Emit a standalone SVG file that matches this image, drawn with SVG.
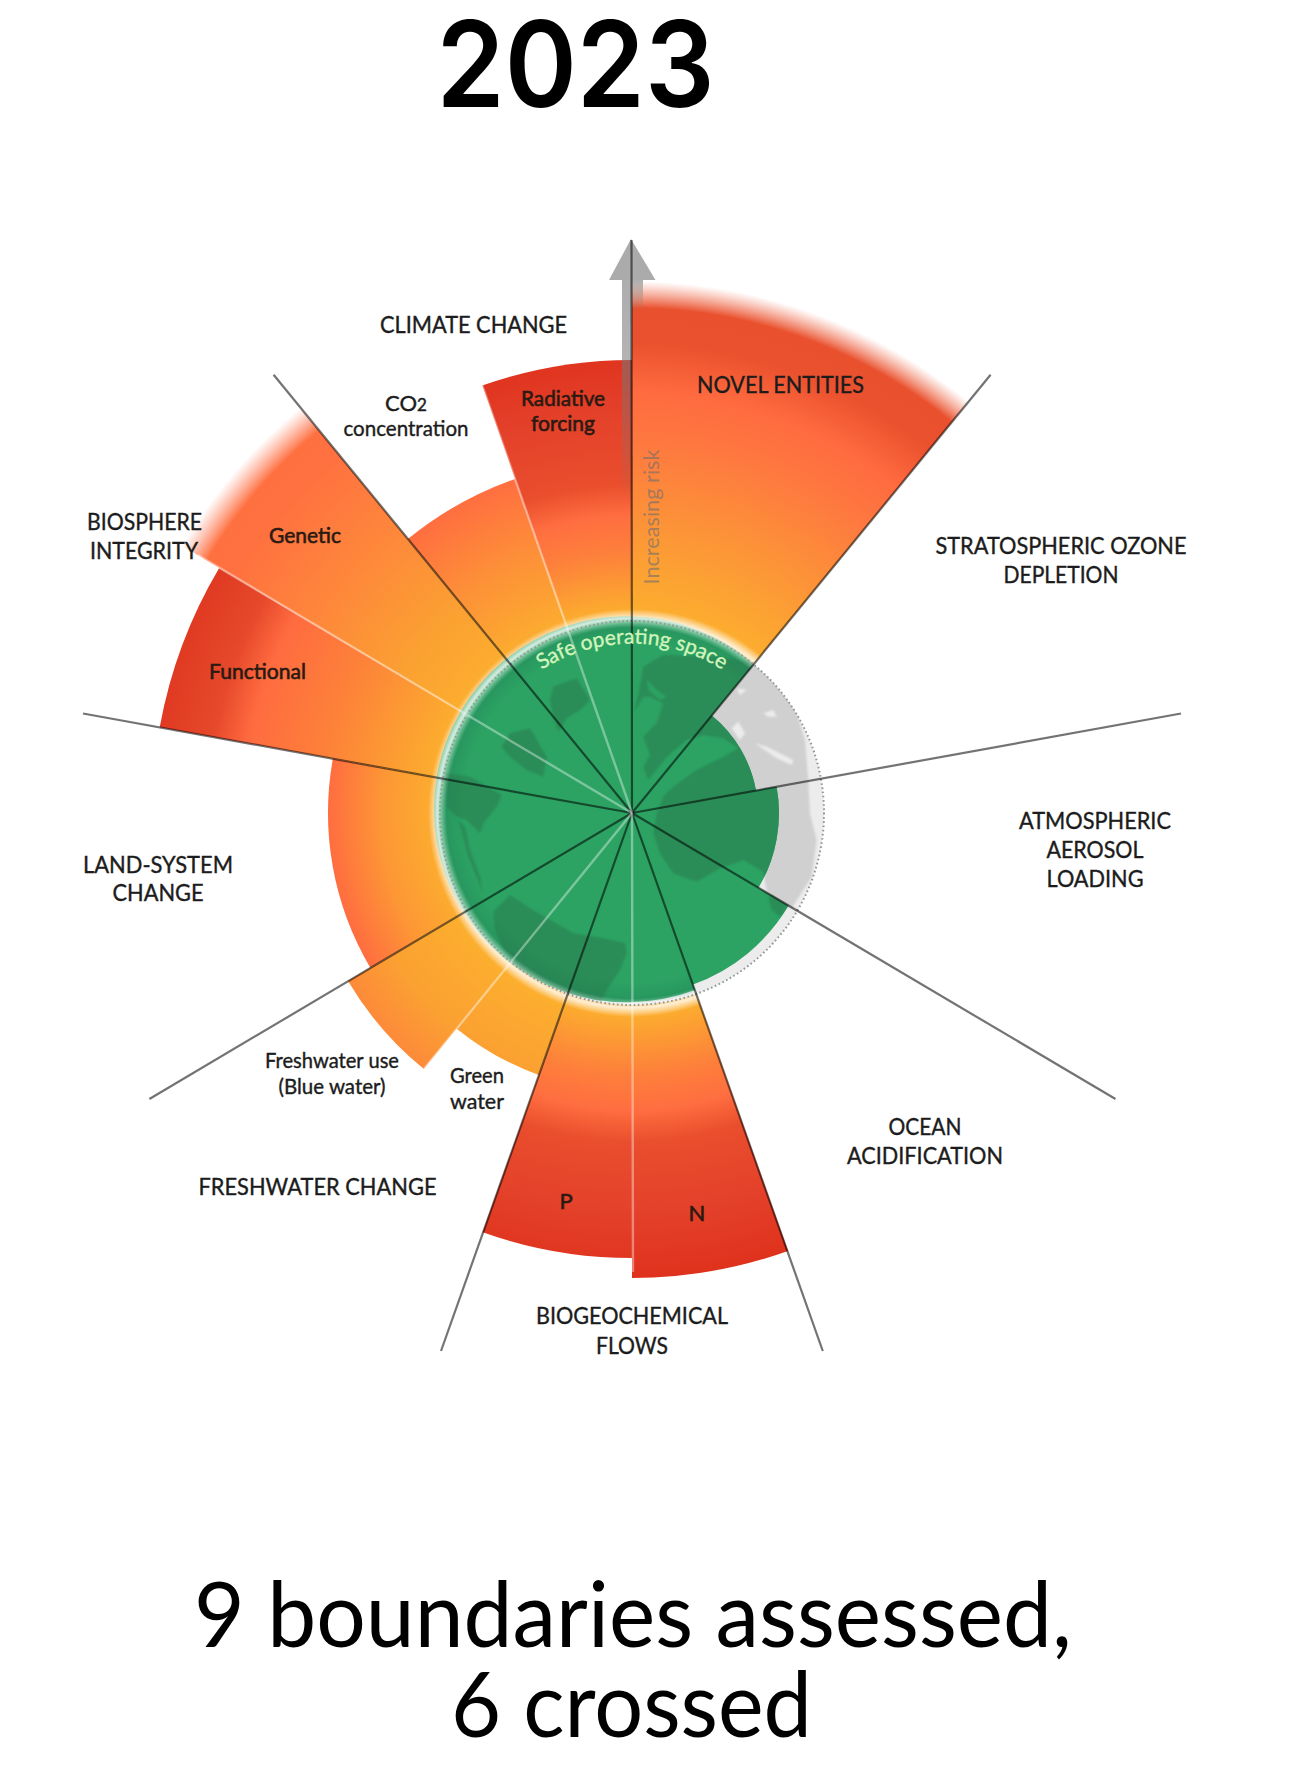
<svg xmlns="http://www.w3.org/2000/svg" xmlns:xlink="http://www.w3.org/1999/xlink" width="1291" height="1769" viewBox="0 0 1291 1769">
<style>
text{font-family:"Lato","Noto Sans",sans-serif;fill:#1c1c1c;text-anchor:middle}
.head{font-size:24px;stroke:#1c1c1c;stroke-width:.4}
.sub{font-size:22px;stroke:#1c1c1c;stroke-width:.4}
.in{font-size:22px;fill:#2a1a12;stroke:#2a1a12;stroke-width:.6}
.spoke{stroke:#000;stroke-opacity:.55;stroke-width:2.2;fill:none}
.div{stroke:#fff;stroke-opacity:.38;stroke-width:2.4;fill:none}
</style>
<defs>
<radialGradient id="gNovel" gradientUnits="userSpaceOnUse" cx="632" cy="813" r="540">
<stop offset=".361" stop-color="#FCAF2E"/><stop offset=".5" stop-color="#FC9936"/><stop offset=".7" stop-color="#FE7640"/><stop offset=".78" stop-color="#FF6B3F"/><stop offset=".87" stop-color="#EA512E"/><stop offset=".935" stop-color="#E9502D"/><stop offset=".985" stop-color="#F07050" stop-opacity="0"/>
</radialGradient>
<radialGradient id="gGenetic" gradientUnits="userSpaceOnUse" cx="632" cy="813" r="540">
<stop offset=".361" stop-color="#FCAE2E"/><stop offset=".5" stop-color="#FBA032"/><stop offset=".69" stop-color="#FE863B"/><stop offset=".86" stop-color="#FF7140"/><stop offset=".915" stop-color="#FF7040"/><stop offset=".97" stop-color="#FF8060" stop-opacity="0"/>
</radialGradient>
<radialGradient id="gFunctional" gradientUnits="userSpaceOnUse" cx="632" cy="813" r="540">
<stop offset=".37" stop-color="#FCAE2E"/><stop offset=".578" stop-color="#FD8139"/><stop offset=".722" stop-color="#FF6B40"/><stop offset=".787" stop-color="#E6492B"/><stop offset=".889" stop-color="#E03A22"/>
</radialGradient>
<radialGradient id="gRed" gradientUnits="userSpaceOnUse" cx="632" cy="813" r="540">
<stop offset=".37" stop-color="#FCAE2E"/><stop offset=".485" stop-color="#FD7F3B"/><stop offset=".55" stop-color="#FF6E40"/><stop offset=".61" stop-color="#E94E2D"/><stop offset=".74" stop-color="#E4412A"/><stop offset=".86" stop-color="#DF321D"/>
</radialGradient>
<radialGradient id="gLand" gradientUnits="userSpaceOnUse" cx="632" cy="813" r="540">
<stop offset=".37" stop-color="#FCAC2F"/><stop offset=".463" stop-color="#FD9735"/><stop offset=".563" stop-color="#FF6D40"/>
</radialGradient>
<radialGradient id="gWater" gradientUnits="userSpaceOnUse" cx="632" cy="813" r="540">
<stop offset=".37" stop-color="#FCAF2E"/><stop offset=".518" stop-color="#FBA032"/><stop offset=".611" stop-color="#FD8A3A"/>
</radialGradient>
<radialGradient id="gCO2" gradientUnits="userSpaceOnUse" cx="632" cy="813" r="540">
<stop offset=".37" stop-color="#FCAC2F"/><stop offset=".518" stop-color="#FD8F38"/><stop offset=".656" stop-color="#FF6E40"/>
</radialGradient>
<radialGradient id="gGlow" gradientUnits="userSpaceOnUse" cx="632" cy="813" r="206">
<stop offset=".82" stop-color="#1E7855" stop-opacity="0"/><stop offset=".9" stop-color="#1E7855" stop-opacity=".28"/><stop offset=".925" stop-color="#fff" stop-opacity=".35"/><stop offset=".945" stop-color="#fff" stop-opacity=".8"/><stop offset=".96" stop-color="#fff" stop-opacity=".55"/><stop offset=".99" stop-color="#fff" stop-opacity="0"/>
</radialGradient>
<linearGradient id="gShaftL" gradientUnits="userSpaceOnUse" x1="0" y1="280" x2="0" y2="500">
<stop offset="0" stop-color="#777" stop-opacity=".6"/><stop offset=".4" stop-color="#777" stop-opacity=".55"/><stop offset="1" stop-color="#777" stop-opacity="0"/>
</linearGradient>
<linearGradient id="gShaftR" gradientUnits="userSpaceOnUse" x1="0" y1="280" x2="0" y2="312">
<stop offset="0" stop-color="#777" stop-opacity=".6"/><stop offset="1" stop-color="#777" stop-opacity="0"/>
</linearGradient>
<filter id="soft" filterUnits="userSpaceOnUse" x="430" y="610" width="410" height="410"><feGaussianBlur stdDeviation=".9"/></filter>
<clipPath id="greenClip">
<path d="M632,813 L695,990 A193,193 0 1 1 754,664 Z"/>
<path d="M632,813 L711.8,715.5 A126,126 0 0 1 756,790.5 Z"/>
<path d="M632,813 L776.6,786.7 A147,147 0 0 1 758.5,887.8 Z"/>
<path d="M632,813 L788.6,905.6 A182,182 0 0 1 693,984.5 Z"/>
</clipPath>
<clipPath id="discClip"><circle cx="632" cy="813" r="192"/></clipPath>
<clipPath id="glowArc"><path d="M632,813 L719.2,1057.9 A260,260 0 1 1 796.7,611.8 Z"/></clipPath>
<g id="landShapes" transform="translate(430,600) scale(.33333)">
<path fill-rule="evenodd" d="M612,335 L628,270 L640,200 L700,165 L860,170 L1000,190 L1060,260 L1100,340 L1125,420 L1135,540 L1140,640 L1160,720 L1145,830 L1085,925 L1010,875 L1000,815 L940,780 L870,805 L800,845 L730,820 L690,760 L670,700 L680,640 L700,590 L730,560 L800,510 L880,470 L925,445 L880,415 L820,405 L770,420 L710,470 L655,540 L640,500 L660,465 L640,410 L680,370 L700,310 L660,290 L640,290 Z M905,385 L925,365 L945,400 L930,420 Z M975,430 L1010,440 L1090,480 L1085,495 L1040,475 Z M1000,340 L1030,330 L1040,350 L1015,350 Z M920,265 L950,270 L930,285 Z M650,240 L680,270 L710,290 L690,300 L655,270 Z"/>
<path d="M1015,890 L1040,880 L1072,920 L1050,950 L1025,930 Z"/>
<path d="M370,260 L440,235 L480,300 L450,330 L410,355 L385,395 L370,350 L360,300 Z"/>
<path d="M240,400 L300,385 L350,470 L340,530 L290,510 L240,470 L215,440 Z"/>
<path d="M45,520 L120,530 L215,585 L200,620 L160,670 L150,700 L110,660 L80,650 L50,620 Z"/>
<path d="M190,935 L240,885 L300,925 L370,965 L430,1000 L520,1015 L585,1030 L590,1060 L570,1110 L530,1170 L510,1215 L430,1195 L350,1150 L270,1110 L220,1050 L195,990 Z"/>
<path d="M85,660 L115,770 L160,880 L150,830 L120,750 L105,680 Z"/>
</g>
<path id="safeArc" d="M492,718 A169,169 0 0 1 772,718"/>
</defs>

<text id="title" x="575.6" y="107" style="font-family:Inter,'Liberation Sans',sans-serif;font-size:119px;font-weight:600;fill:#000" textLength="278" lengthAdjust="spacingAndGlyphs">2023</text>

<g id="novel-entities"><path d="M632,813 L632,273 A540,540 0 0 1 974,395.1 Z" fill="url(#gNovel)"/></g>
<g id="biogeochemical-n"><path d="M632,813 L788,1251 A465,465 0 0 1 632,1278 Z" fill="url(#gRed)"/></g>
<g id="biogeochemical-p"><path d="M632,813 L632,1258 A445,445 0 0 1 482.7,1232.2 Z" fill="url(#gRed)"/></g>
<g id="freshwater-green"><path d="M632,813 L538.7,1074.9 A278,278 0 0 1 456.7,1028.7 Z" fill="url(#gWater)"/></g>
<g id="freshwater-blue"><path d="M632,813 L423.9,1069.1 A330,330 0 0 1 348,981 Z" fill="url(#gWater)"/></g>
<g id="land-system"><path d="M632,813 L370.3,967.7 A304,304 0 0 1 332.9,758.6 Z" fill="url(#gLand)"/></g>
<g id="biosphere-functional"><path d="M632,813 L159.7,727.2 A480,480 0 0 1 219.2,568 Z" fill="url(#gFunctional)"/></g>
<g id="biosphere-genetic"><path d="M632,813 L176.3,542.4 A530,530 0 0 1 296.3,402.9 Z" fill="url(#gGenetic)"/></g>
<g id="climate-co2"><path d="M632,813 L407.8,539.1 A354,354 0 0 1 515,478.9 Z" fill="url(#gCO2)"/></g>
<g id="climate-radiative"><path d="M632,813 L482.3,385.5 A453,453 0 0 1 632,360 Z" fill="url(#gRed)"/></g>

<g id="risk-arrow">
<path d="M631,239 L655.5,280 L609,280 Z" fill="#ABABAB"/>
<rect x="622" y="280" width="10" height="220" fill="url(#gShaftL)"/>
<rect x="632" y="280" width="11" height="32" fill="url(#gShaftR)"/>
</g>

<g id="globe">
<circle cx="632" cy="813" r="192" fill="#ECECEC"/>
<g clip-path="url(#discClip)"><g fill="#D0D0D0" filter="url(#soft)"><use href="#landShapes" xlink:href="#landShapes"/></g></g>
<g clip-path="url(#greenClip)">
<rect x="430" y="610" width="410" height="410" fill="#2CA363"/>
<g fill="#2B8C57" filter="url(#soft)"><use href="#landShapes" xlink:href="#landShapes"/></g>
</g>
<g clip-path="url(#glowArc)"><circle cx="632" cy="813" r="206" fill="url(#gGlow)"/></g>
<circle cx="632" cy="813" r="192" fill="none" stroke="#8E9A96" stroke-width="2" stroke-dasharray="1.6 2.6"/>
</g>

<g id="connectors">
<line class="spoke" x1="632" y1="813" x2="631.5" y2="240"/>
<line class="spoke" x1="632" y1="813" x2="990.6" y2="374.7"/>
<line class="spoke" x1="632" y1="813" x2="1181" y2="713.5"/>
<line class="spoke" x1="632" y1="813" x2="1115.5" y2="1099"/>
<line class="spoke" x1="632" y1="813" x2="822.8" y2="1351"/>
<line class="spoke" x1="632" y1="813" x2="441" y2="1351"/>
<line class="spoke" x1="632" y1="813" x2="149.4" y2="1099"/>
<line class="spoke" x1="632" y1="813" x2="83" y2="713.5"/>
<line class="spoke" x1="632" y1="813" x2="273.6" y2="374.7"/>
<line class="div" x1="632" y1="813" x2="633" y2="1272"/>
<line class="div" x1="632" y1="813" x2="423.9" y2="1069.1"/>
<line class="div" x1="632" y1="813" x2="198" y2="555"/>
<line class="div" x1="632" y1="813" x2="482.3" y2="385.5"/>
</g>

<text id="safe-label" style="font-size:21px;fill:#D2F5BC;stroke:#D2F5BC;stroke-width:.35"><textPath href="#safeArc" xlink:href="#safeArc" startOffset="50%">Safe operating space</textPath></text>
<text id="risk-label" transform="translate(659,517) rotate(-90)" style="font-size:22px;fill:#6e6e6e;fill-opacity:.62" x="0" y="0" textLength="135" lengthAdjust="spacingAndGlyphs">Increasing risk</text>

<g id="labels">
<text class="head" x="473.5" y="333" textLength="187" lengthAdjust="spacingAndGlyphs">CLIMATE CHANGE</text>
<text class="sub" x="406" y="411">CO<tspan font-size="17">2</tspan></text>
<text class="sub" x="406" y="436" textLength="125" lengthAdjust="spacingAndGlyphs">concentration</text>
<text class="in" x="563" y="406" textLength="84" lengthAdjust="spacingAndGlyphs">Radiative</text>
<text class="in" x="563" y="431" textLength="64" lengthAdjust="spacingAndGlyphs">forcing</text>
<text class="head" x="144.5" y="530" textLength="115" lengthAdjust="spacingAndGlyphs">BIOSPHERE</text>
<text class="head" x="144" y="559" textLength="108" lengthAdjust="spacingAndGlyphs">INTEGRITY</text>
<text class="in" x="305" y="543" textLength="72" lengthAdjust="spacingAndGlyphs">Genetic</text>
<text class="in" x="257.5" y="679" textLength="97" lengthAdjust="spacingAndGlyphs">Functional</text>
<text class="head" x="780.5" y="393" textLength="167" lengthAdjust="spacingAndGlyphs">NOVEL ENTITIES</text>
<text class="head" x="1061" y="554" textLength="251" lengthAdjust="spacingAndGlyphs">STRATOSPHERIC OZONE</text>
<text class="head" x="1061" y="583" textLength="115" lengthAdjust="spacingAndGlyphs">DEPLETION</text>
<text class="head" x="1095" y="829" textLength="152" lengthAdjust="spacingAndGlyphs">ATMOSPHERIC</text>
<text class="head" x="1095" y="858" textLength="97" lengthAdjust="spacingAndGlyphs">AEROSOL</text>
<text class="head" x="1095" y="887" textLength="97" lengthAdjust="spacingAndGlyphs">LOADING</text>
<text class="head" x="925" y="1135" textLength="73" lengthAdjust="spacingAndGlyphs">OCEAN</text>
<text class="head" x="925" y="1164" textLength="156" lengthAdjust="spacingAndGlyphs">ACIDIFICATION</text>
<text class="head" x="632" y="1324" textLength="192" lengthAdjust="spacingAndGlyphs">BIOGEOCHEMICAL</text>
<text class="head" x="632" y="1354" textLength="72" lengthAdjust="spacingAndGlyphs">FLOWS</text>
<text class="in" x="697" y="1221">N</text>
<text class="in" x="566" y="1209">P</text>
<text class="head" x="317.5" y="1195" textLength="238" lengthAdjust="spacingAndGlyphs">FRESHWATER CHANGE</text>
<text class="sub" x="332" y="1068" textLength="134" lengthAdjust="spacingAndGlyphs">Freshwater use</text>
<text class="sub" x="332" y="1094" textLength="107" lengthAdjust="spacingAndGlyphs">(Blue water)</text>
<text class="sub" x="477" y="1083" textLength="54" lengthAdjust="spacingAndGlyphs">Green</text>
<text class="sub" x="477" y="1109" textLength="54" lengthAdjust="spacingAndGlyphs">water</text>
<text class="head" x="158" y="873" textLength="150" lengthAdjust="spacingAndGlyphs">LAND-SYSTEM</text>
<text class="head" x="158" y="901" textLength="91" lengthAdjust="spacingAndGlyphs">CHANGE</text>
</g>

<g id="caption">
<text x="633" y="1647" style="font-size:92px;fill:#000" textLength="878" lengthAdjust="spacingAndGlyphs">9 boundaries assessed,</text>
<text x="631.5" y="1737" style="font-size:92px;fill:#000" textLength="361" lengthAdjust="spacingAndGlyphs">6 crossed</text>
</g>
</svg>
